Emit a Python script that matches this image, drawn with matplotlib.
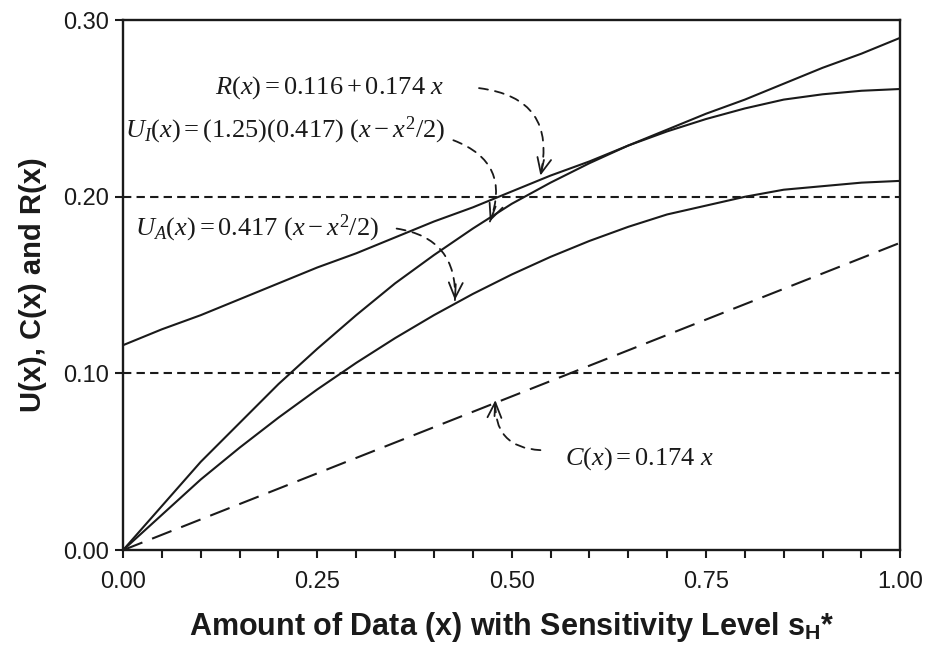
import matplotlib
matplotlib.use("Agg")
import numpy as np
import matplotlib.pyplot as plt

plt.rcParams['font.family'] = ['Liberation Sans', 'DejaVu Sans']
plt.rcParams['mathtext.fontset'] = 'custom'
plt.rcParams['mathtext.rm'] = 'Liberation Serif'
plt.rcParams['mathtext.it'] = 'Liberation Serif:italic'
plt.rcParams['mathtext.bf'] = 'Liberation Sans:bold'

x = [0.00, 0.05, 0.10, 0.15, 0.20, 0.25, 0.30, 0.35, 0.40, 0.45, 0.50,
     0.55, 0.60, 0.65, 0.70, 0.75, 0.80, 0.85, 0.90, 0.95, 1.00]
r_vals = [0.116, 0.125, 0.133, 0.142, 0.151, 0.160, 0.168, 0.177, 0.186, 0.194, 0.203,
          0.212, 0.220, 0.229, 0.238, 0.247, 0.255, 0.264, 0.273, 0.281, 0.290]
ui_vals = [0.000, 0.025, 0.050, 0.072, 0.094, 0.114, 0.133, 0.151, 0.167, 0.182, 0.196,
           0.208, 0.219, 0.229, 0.237, 0.244, 0.250, 0.255, 0.258, 0.260, 0.261]
ua_vals = [0.000, 0.020, 0.040, 0.058, 0.075, 0.091, 0.106, 0.120, 0.133, 0.145, 0.156,
           0.166, 0.175, 0.183, 0.190, 0.195, 0.200, 0.204, 0.206, 0.208, 0.209]
c_x = [0.0, 1.0]
c_vals = [0.0, 0.174]
ref_levels = [0.10, 0.20]

fig = plt.figure(figsize=(9.32, 6.48), dpi=100)
ax = fig.add_axes([0.132, 0.151, 0.834, 0.818])
ink = '#1a1a1a'

lw = 1.5
ax.plot(x, r_vals, color=ink, lw=lw)
ax.plot(x, ui_vals, color=ink, lw=lw)
ax.plot(x, ua_vals, color=ink, lw=lw)
ax.plot(c_x, c_vals, color=ink, lw=lw, dashes=(10, 5))
for lev in ref_levels:
    ax.axhline(lev, color=ink, lw=lw, dashes=(4, 2.5))

ax.set_xlim(0, 1)
ax.set_ylim(0, 0.30)
ax.set_xticks([0, 0.25, 0.5, 0.75, 1.0])
ax.set_xticks([i * 0.05 for i in range(21)], minor=True)
ax.set_yticks([0, 0.1, 0.2, 0.3])
ax.set_xticklabels(['0.00', '0.25', '0.50', '0.75', '1.00'])
ax.set_yticklabels(['0.00', '0.10', '0.20', '0.30'])
ax.tick_params(which='both', direction='out', length=6, width=1.5, labelsize=17,
               colors=ink)
ax.tick_params(axis='x', which='both', pad=9)
ax.tick_params(axis='y', pad=4)
for s in ax.spines.values():
    s.set_linewidth(1.7)
    s.set_color(ink)

ax.set_xlabel(r'Amount of Data (x) with Sensitivity Level s$_\mathbf{H}$*',
              fontsize=22, fontweight='bold', labelpad=12, color=ink)
ax.set_ylabel('U(x), C(x) and R(x)', fontsize=21, fontweight='bold', labelpad=12,
              color=ink)

tfs = 19
ax.text(0.118, 0.262, r'$R(x) = 0.116 + 0.174\ x$', fontsize=tfs, va='center', color=ink)
ax.text(0.002, 0.2377, r'$U_I(x) = (1.25)(0.417)\ (x - x^2/2)$', fontsize=tfs,
        va='center', color=ink)
ax.text(0.0155, 0.182, r'$U_A(x) = 0.417\ (x - x^2/2)$', fontsize=tfs, va='center',
        color=ink)
ax.text(0.569, 0.052, r'$C(x) = 0.174\ x$', fontsize=tfs, va='center', color=ink)


def arrow(start, end, rad):
    # dashed curved shaft
    ax.annotate('', xy=end, xytext=start,
                arrowprops=dict(arrowstyle='-', color=ink, lw=1.3,
                                linestyle=(0, (5, 4)), shrinkA=0, shrinkB=0,
                                connectionstyle='arc3,rad=%s' % rad))
    # solid open head, aligned with the arc tangent at the end
    p1 = ax.transData.transform(start)
    p2 = ax.transData.transform(end)
    d = p2 - p1
    ctrl = (p1 + p2) / 2 + rad * np.array([d[1], -d[0]])
    t = p2 - ctrl
    t = t / np.hypot(*t)
    back = ax.transData.inverted().transform(p2 - 16 * t)
    ax.annotate('', xy=end, xytext=back,
                arrowprops=dict(arrowstyle='->, head_length=1.1, head_width=0.5',
                                color=ink, lw=1.3, shrinkA=0, shrinkB=0))


arrow((0.458, 0.2615), (0.537, 0.212), -0.55)
arrow((0.425, 0.232), (0.472, 0.186), -0.5)
arrow((0.352, 0.182), (0.427, 0.1415), -0.45)
arrow((0.537, 0.0566), (0.479, 0.0849), -0.5)

fig.savefig('out.png', dpi=100)
